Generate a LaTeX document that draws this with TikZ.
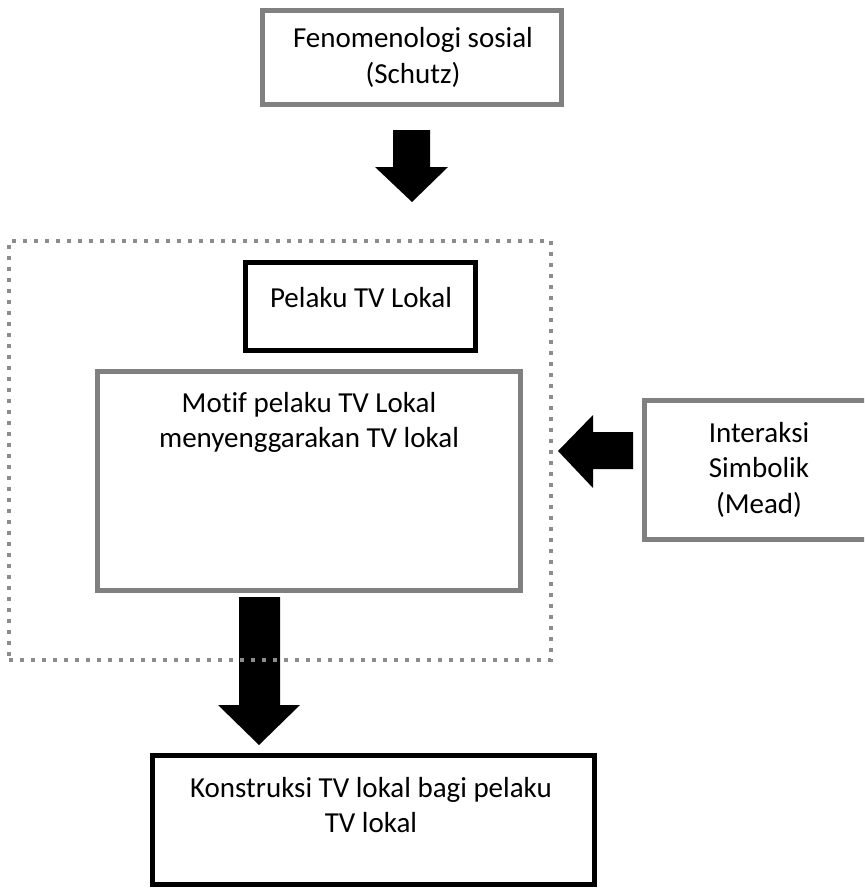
\documentclass[tikz,border=0pt]{standalone}
\usepackage{fontspec}
\setmainfont{Carlito}[Ligatures={NoCommon}]
\newcommand{\boxtext}[1]{\begin{tabular}[t]{@{}c@{}}#1\end{tabular}}
\definecolor{boxgray}{HTML}{808080}
\definecolor{dotgray}{HTML}{8C8C8C}
\tikzset{
  every node/.style={inner sep=0pt, outer sep=0pt},
  graybox/.style={draw=boxgray, line width=5pt, rectangle, fill=none},
  blackbox/.style={draw=black, line width=5pt, rectangle, fill=none},
  groupbox/.style={draw=dotgray, line width=4pt, dash pattern=on 4pt off 7pt, rectangle},
  label/.style={font=\fontsize{29}{35.5}\selectfont, anchor=base, text=black},
  blockarrow/.style={fill=black, draw=none}
}
\begin{document}
\begin{tikzpicture}[x=1pt,y=-1pt]
\useasboundingbox (0,0) rectangle (864,888);
\clip (0,0) rectangle (864,888);
\fill[white] (0,0) rectangle (864,888);

% top box
\node[graybox, minimum width=299pt, minimum height=94pt] (schutz) at (412,57.5) {};
\node[label] (schutztext) at (413,48) {\boxtext{Fenomenologi sosial\\(Schutz)}};

% arrow 1
\fill[blockarrow] (393,130) -- (430,130) -- (430,167) -- (448,167) -- (412,202) -- (375,167) -- (393,167) -- cycle;

% arrow 3 (drawn below dotted frame)
\fill[blockarrow] (239,597) -- (280,597) -- (280,705) -- (300,705) -- (259,745) -- (218,705) -- (239,705) -- cycle;

% dotted group frame
\node[groupbox, minimum width=542pt, minimum height=419pt] (group) at (280,450.5) {};

% Pelaku box
\node[blackbox, minimum width=230pt, minimum height=88pt] (pelaku) at (360.5,306.5) {};
\node[label] (pelakutext) at (361,307) {Pelaku TV Lokal};

% Motif box
\node[graybox, minimum width=423pt, minimum height=219pt] (motif) at (309,481) {};
\node[label] (motiftext) at (309,412) {\boxtext{Motif pelaku TV Lokal\\menyenggarakan TV lokal}};

% Interaksi box
\node[graybox, minimum width=229pt, minimum height=139pt] (mead) at (759,470) {};
\node[label] (meadtext) at (759,442) {\boxtext{Interaksi\\Simbolik\\(Mead)}};

% arrow 2 (left)
\fill[blockarrow] (633,432) -- (633,469) -- (593,469) -- (593,488) -- (558,451) -- (593,415) -- (593,432) -- cycle;

% Konstruksi box
\node[blackbox, minimum width=442pt, minimum height=129pt] (konstruksi) at (373.5,820) {};
\node[label] (konstruksitext) at (371,797) {\boxtext{Konstruksi TV lokal bagi pelaku\\TV lokal}};
\end{tikzpicture}
\end{document}
